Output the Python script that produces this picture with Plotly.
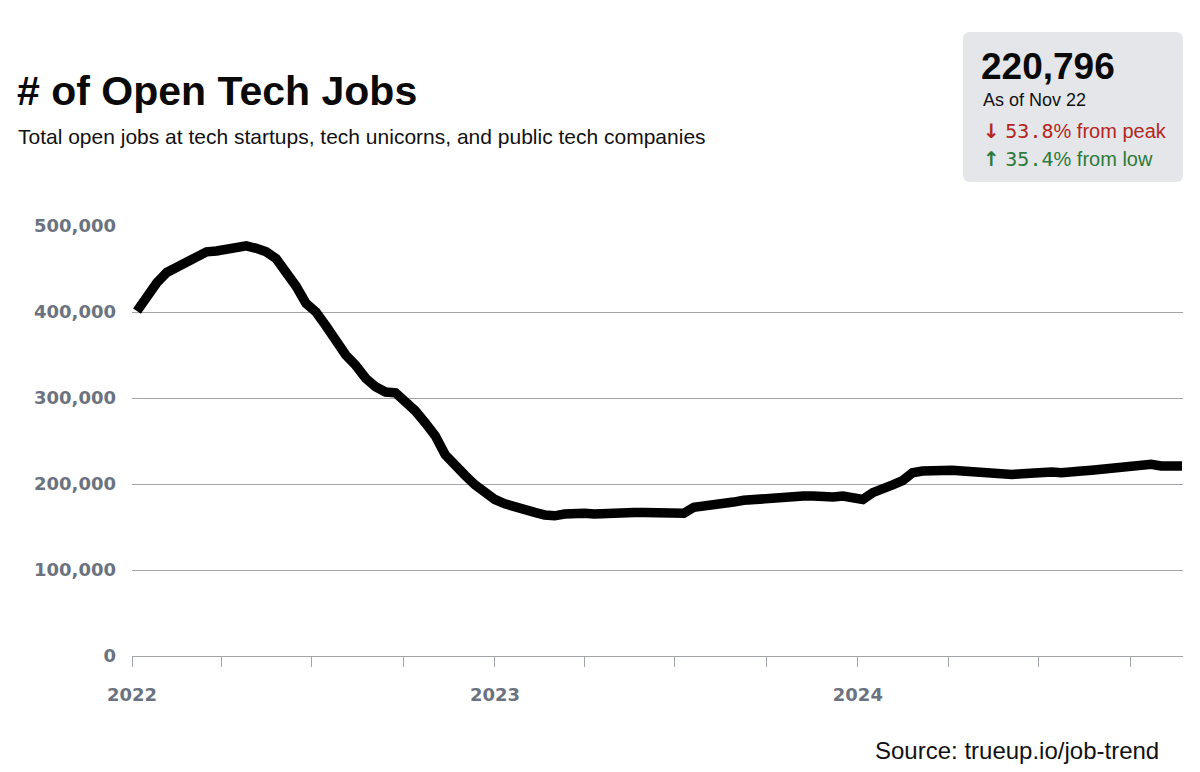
import pandas as pd
import plotly.graph_objects as go

# ---- data ----
dates = list(pd.date_range("2022-01-06", periods=105, freq="10D").strftime("%Y-%m-%d")) + ["2024-11-22"]
open_jobs = [
    401000, 418000, 434000, 446000, 452000, 458000, 466000, 470000, 471000, 473000,
    476000, 477000, 474000, 470000, 462000, 447000, 430000, 410000, 400000, 384000,
    366000, 350000, 338000, 323000, 313000, 307000, 306000, 297000, 285000, 271000,
    256000, 234000, 220000, 210000, 199000, 190000, 182000, 177000, 173000, 170000,
    167000, 164000, 163000, 165000, 166000, 166000, 165000, 166000, 166000, 166000,
    167000, 167000, 167000, 167000, 166000, 166000, 173000, 174000, 177000, 178000,
    179000, 181000, 182000, 184000, 185000, 185000, 186000, 186000, 186000, 185000,
    185000, 186000, 185000, 182000, 190000, 196000, 199000, 204000, 213000, 215000,
    216000, 217000, 216000, 215000, 214000, 212000, 212000, 211000, 211000, 212000,
    213000, 213000, 214000, 213000, 215000, 215000, 216000, 217000, 219000, 221000,
    222000, 223000, 223000, 221000, 221000, 220796,
]
y_ticks = [0, 100000, 200000, 300000, 400000, 500000]
y_tick_labels = ["0", "100,000", "200,000", "300,000", "400,000", "500,000"]
x_ticks = ["2022-01-01", "2022-04-01", "2022-07-01", "2022-10-01",
           "2023-01-01", "2023-04-01", "2023-07-01", "2023-10-01",
           "2024-01-01", "2024-04-01", "2024-07-01", "2024-10-01"]
x_tick_labels = ["2022", "", "", "", "2023", "", "", "", "2024", "", "", ""]

title = "# of Open Tech Jobs"
subtitle = "Total open jobs at tech startups, tech unicorns, and public tech companies"
latest_value = "220,796"
as_of = "As of Nov 22"
from_peak = "53.8"
from_low = "35.4"
source = "Source: trueup.io/job-trend"

# ---- layout geometry (pixels) ----
W, H = 1200, 772
L, R, T, B = 132, 17, 226, 116
PW, PH = W - L - R, H - T - B


def px(x):
    return (x - L) / PW


def py(y):
    return (H - B - y) / PH


GRAY_TXT = "#6b7280"
GRID = "#a2a5aa"
FONT = "Liberation Sans"

fig = go.Figure()
fig.add_trace(go.Scatter(
    x=dates, y=open_jobs, mode="lines",
    line=dict(color="#000000", width=9.5),
    hoverinfo="skip", showlegend=False,
))

fig.update_layout(
    width=W, height=H,
    margin=dict(l=L, r=R, t=T, b=B),
    paper_bgcolor="white", plot_bgcolor="white",
    font=dict(family=FONT, color="#111111"),
    xaxis=dict(
        range=["2022-01-01", "2024-11-23"],
        tickmode="array", tickvals=x_ticks, ticktext=x_tick_labels,
        ticks="outside", ticklen=10, tickwidth=1, tickcolor=GRID,
        showline=True, linecolor=GRID, linewidth=1,
        showgrid=False, zeroline=False,
        tickfont=dict(family="DejaVu Sans", size=18, color=GRAY_TXT, weight="bold"),
        ticklabelstandoff=12,
        fixedrange=True,
    ),
    yaxis=dict(
        range=[0, 500000],
        tickmode="array", tickvals=y_ticks, ticktext=y_tick_labels,
        showgrid=True, gridcolor=GRID, gridwidth=1,
        zeroline=False, showline=False, ticks="",
        tickfont=dict(family="DejaVu Sans", size=18, color=GRAY_TXT, weight="bold"),
        ticklabelstandoff=15,
        fixedrange=True,
    ),
)

# rounded stat box
x0, x1, y0, y1, r = 963, 1183, 32, 182, 7
rx, ry = r / PW, r / PH
X0, X1, Y0, Y1 = px(x0), px(x1), py(y0), py(y1)
path = (f"M {X0+rx},{Y0} L {X1-rx},{Y0} Q {X1},{Y0} {X1},{Y0-ry} "
        f"L {X1},{Y1+ry} Q {X1},{Y1} {X1-rx},{Y1} "
        f"L {X0+rx},{Y1} Q {X0},{Y1} {X0},{Y1+ry} "
        f"L {X0},{Y0-ry} Q {X0},{Y0} {X0+rx},{Y0} Z")
fig.add_shape(type="path", path=path, xref="paper", yref="paper",
              fillcolor="#e4e6ea", line=dict(width=0), layer="below")

mono = "font-family:'DejaVu Sans Mono'"
arrow = "font-family:'DejaVu Sans';font-weight:bold"
annos = [
    dict(text=f"<b>{title}</b>", x=px(15), y=py(91), size=41, color="#0a0a0a"),
    dict(text=subtitle, x=px(16), y=py(136), size=21, color="#111111"),
    dict(text=f"<b>{latest_value}</b>", x=px(979), y=py(66), size=37, color="#0a0a0a"),
    dict(text=as_of, x=px(981), y=py(100), size=18, color="#111111"),
    dict(text=f"<span style=\"{arrow}\">↓</span> <span style=\"{mono}\">{from_peak}</span>% from peak",
         x=px(981), y=py(131), size=20, color="#b3261e"),
    dict(text=f"<span style=\"{arrow}\">↑</span> <span style=\"{mono}\">{from_low}</span>% from low",
         x=px(981), y=py(159), size=20, color="#2e7a3a"),
]
for a in annos:
    fig.add_annotation(
        text=a["text"], x=a["x"], y=a["y"], xref="paper", yref="paper",
        xanchor="left", yanchor="middle", showarrow=False,
        font=dict(family=FONT, size=a["size"], color=a["color"]),
    )

fig.add_annotation(
    text=source, x=px(1161), y=py(750), xref="paper", yref="paper",
    xanchor="right", yanchor="middle", showarrow=False,
    font=dict(family=FONT, size=24, color="#111111"),
)

fig.write_html("out.html")
